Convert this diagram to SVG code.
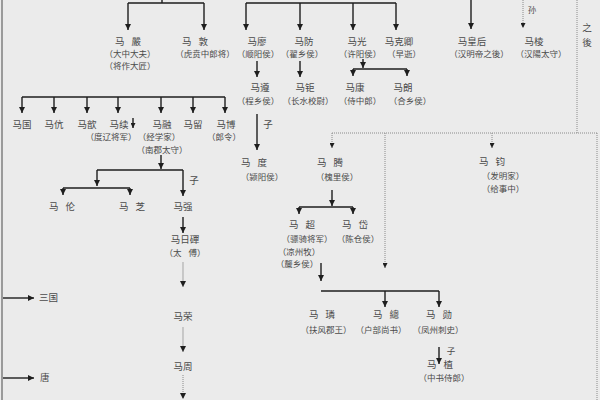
<svg xmlns="http://www.w3.org/2000/svg" width="600" height="400" viewBox="0 0 600 400">
<style>
text{font-family:"Noto Sans CJK SC","Noto Sans CJK TC",sans-serif;fill:#4a4a4a;text-anchor:middle;font-size:9.5px}
.t{font-size:8.5px}
.w{word-spacing:5px}
.c{stroke:#1e1e1e;stroke-width:1.4;fill:none}
.l{stroke:#b0b0b0;stroke-width:1.2;fill:none}
.d{stroke:#8a8a8a;stroke-width:1;stroke-dasharray:1 1;fill:none}
</style>
<defs>
<marker id="a" viewBox="0 0 8 8" refX="8" refY="4" markerWidth="6" markerHeight="6" markerUnits="userSpaceOnUse" orient="auto"><path d="M0,0L8,4L0,8z" fill="#1e1e1e"/></marker>
<marker id="b" viewBox="0 0 8 8" refX="8" refY="4" markerWidth="5" markerHeight="5" markerUnits="userSpaceOnUse" orient="auto"><path d="M0,0L8,4L0,8z" fill="#1e1e1e"/></marker>
</defs>
<rect width="600" height="400" fill="#ebebeb"/>
<rect x="1" y="0" width="2" height="400" fill="#9a9a9a"/>
<g id="connectors">
<path class="c" d="M162,0V3M128,3H204M246,3H396"/>
<path class="c" marker-end="url(#a)" d="M128,3V30"/>
<path class="c" marker-end="url(#a)" d="M204,3V30"/>
<path class="c" marker-end="url(#a)" d="M246,3V30"/>
<path class="c" marker-end="url(#a)" d="M300,3V30"/>
<path class="c" marker-end="url(#a)" d="M353,3V30"/>
<path class="c" marker-end="url(#a)" d="M396,3V30"/>
<path class="c" marker-end="url(#a)" d="M471,0V29"/>
<path class="d" marker-end="url(#b)" d="M523,0V28"/>
<path class="c" marker-end="url(#a)" d="M257,61V77"/>
<path class="c" marker-end="url(#a)" d="M300,61V77"/>
<path class="c" marker-end="url(#a)" d="M363,59V68"/>
<path class="c" d="M353,69H407"/>
<path class="c" marker-end="url(#a)" d="M353,69V76"/>
<path class="c" marker-end="url(#a)" d="M407,69V76"/>
<path class="c" d="M22,97H225"/>
<path class="c" marker-end="url(#a)" d="M22,97V113"/>
<path class="c" marker-end="url(#a)" d="M54,97V113"/>
<path class="c" marker-end="url(#a)" d="M87,97V113"/>
<path class="c" marker-end="url(#a)" d="M118,97V113"/>
<path class="c" marker-end="url(#a)" d="M161,97V113"/>
<path class="c" marker-end="url(#a)" d="M193,97V113"/>
<path class="c" marker-end="url(#a)" d="M225,97V113"/>
<path class="c" marker-end="url(#b)" d="M133,118V128"/>
<path class="c" marker-end="url(#a)" d="M257,114V150"/>
<path class="c" marker-end="url(#a)" d="M161,155V169"/>
<path class="c" d="M97,170H183"/>
<path class="c" marker-end="url(#a)" d="M97,170V186"/>
<path class="c" marker-end="url(#a)" d="M183,170V196"/>
<path class="c" d="M63,188H130"/>
<path class="c" marker-end="url(#a)" d="M63,188V195"/>
<path class="c" marker-end="url(#a)" d="M130,188V195"/>
<path class="c" marker-end="url(#a)" d="M183,217V233"/>
<path class="l" marker-end="url(#a)" d="M183,262V287"/>
<path class="l" marker-end="url(#a)" d="M183,327V352"/>
<path class="d" marker-end="url(#a)" d="M183,375V399"/>
<path class="c" stroke-width="1" marker-end="url(#a)" d="M3,298H34"/>
<path class="c" stroke-width="1" marker-end="url(#a)" d="M3,378H34"/>
<path class="d" d="M577,0V133M332,133H597M597,133V400"/>
<path class="d" marker-end="url(#b)" d="M332,133V148"/>
<path class="d" marker-end="url(#b)" d="M385,133V268"/>
<path class="d" marker-end="url(#b)" d="M492,133V148"/>
<path class="c" marker-end="url(#a)" d="M332,190V206"/>
<path class="c" d="M299,207H353"/>
<path class="c" marker-end="url(#a)" d="M299,207V214"/>
<path class="c" marker-end="url(#a)" d="M353,207V214"/>
<path class="c" marker-end="url(#a)" d="M321,263V281"/>
<path class="c" d="M321,291H439"/>
<path class="c" marker-end="url(#a)" d="M385,291V307"/>
<path class="c" marker-end="url(#a)" d="M439,291V307"/>
<path class="c" marker-end="url(#a)" d="M439,347V364"/>
</g>
<g id="labels">
<text x="532" y="13" class="t">孙</text>
<text x="587" y="31">之</text>
<text x="587" y="46">後</text>
<text x="268" y="128">子</text>
<text x="194" y="184">子</text>
<text x="451" y="354" class="t">子</text>
</g>
<g id="n-mayan"><text x="128" y="44.5" class="w">马 嚴</text><text x="130" y="56.5" class="t">（大中大夫）</text><text x="130" y="68.5" class="t">（将作大匠）</text></g>
<g id="n-madun"><text x="195" y="44.5" class="w">马 敦</text><text x="205" y="56.5" class="t">（虎贲中郎将）</text></g>
<g id="n-maliao"><text x="257" y="44.5">马廖</text><text x="258" y="56.5" class="t">（顺阳侯）</text></g>
<g id="n-mafang"><text x="304" y="44.5">马防</text><text x="302" y="56.5" class="t">（翟乡侯）</text></g>
<g id="n-maguang"><text x="357" y="44.5">马光</text><text x="360" y="56.5" class="t">（许阳侯）</text></g>
<g id="n-makeqing"><text x="399" y="44.5">马克卿</text><text x="404" y="56.5" class="t">（早逝）</text></g>
<g id="n-mahuanghou"><text x="472" y="44.5">马皇后</text><text x="479" y="56.5" class="t">（汉明帝之後）</text></g>
<g id="n-maleng"><text x="534" y="44.5">马棱</text><text x="541" y="56.5" class="t">（汉陽太守）</text></g>
<g id="n-mazun"><text x="260" y="91">马遵</text><text x="258" y="103.5" class="t">（程乡侯）</text></g>
<g id="n-maju"><text x="305" y="91">马钜</text><text x="308" y="103.5" class="t">（长水校尉）</text></g>
<g id="n-makang"><text x="355" y="91">马康</text><text x="360" y="103.5" class="t">（侍中郎）</text></g>
<g id="n-malang"><text x="403" y="91">马朗</text><text x="410" y="103.5" class="t">（合乡侯）</text></g>
<g id="n-maguo"><text x="22" y="127.5">马国</text></g>
<g id="n-makang2"><text x="54" y="127.5">马伉</text></g>
<g id="n-maxin"><text x="87" y="127.5">马歆</text></g>
<g id="n-maxu"><text x="119" y="127.5">马续</text><text x="111" y="140" class="t">（度辽将军）</text></g>
<g id="n-marong"><text x="162" y="127.5">马融</text><text x="159" y="140" class="t">（经学家）</text><text x="162" y="152.5" class="t">（南郡太守）</text></g>
<g id="n-maliu"><text x="193" y="127.5">马留</text></g>
<g id="n-mabo"><text x="226" y="127.5">马博</text><text x="224" y="140" class="t">（郎令）</text></g>
<g id="n-madu"><text x="254" y="166" class="w">马 度</text><text x="262" y="180" class="t">（颍阳侯）</text></g>
<g id="n-mateng"><text x="330" y="166" class="w">马 腾</text><text x="337" y="180" class="t">（槐里侯）</text></g>
<g id="n-majun"><text x="492" y="165" class="w">马 钧</text><text x="503" y="179" class="t">（发明家）</text><text x="503" y="191.5" class="t">（给事中）</text></g>
<g id="n-malun"><text x="62" y="210" class="w">马 伦</text></g>
<g id="n-mazhi"><text x="132" y="210" class="w">马 芝</text></g>
<g id="n-maqiang"><text x="183" y="210">马强</text></g>
<g id="n-maridi"><text x="185" y="243">马日磾</text><text x="185" y="255.5" class="t w">（太 傅）</text></g>
<g id="n-machao"><text x="302" y="228" class="w">马 超</text><text x="307" y="242" class="t">（骠骑将军）</text><text x="299" y="254.5" class="t">（凉州牧）</text><text x="297" y="267" class="t">（斄乡侯）</text></g>
<g id="n-madai"><text x="355" y="228" class="w">马 岱</text><text x="358" y="242" class="t">（陈仓侯）</text></g>
<g id="n-marong2"><text x="183" y="320">马荣</text></g>
<g id="n-mazhou"><text x="183" y="370">马周</text></g>
<g id="n-sanguo"><text x="39" y="301" style="text-anchor:start">三国</text></g>
<g id="n-tang"><text x="40" y="381" style="text-anchor:start">唐</text></g>
<g id="n-malin"><text x="322" y="318" class="w">马 璘</text><text x="326" y="333" class="t">（扶风郡王）</text></g>
<g id="n-mazong"><text x="386" y="318" class="w">马 總</text><text x="381" y="333" class="t">（户部尚书）</text></g>
<g id="n-maxun"><text x="439" y="318" class="w">马 勋</text><text x="438" y="333" class="t">（凤州刺史）</text></g>
<g id="n-mazhi2"><text x="440" y="368" class="w">马 植</text><text x="444" y="380.5" class="t">（中书侍郎）</text></g>
</svg>
